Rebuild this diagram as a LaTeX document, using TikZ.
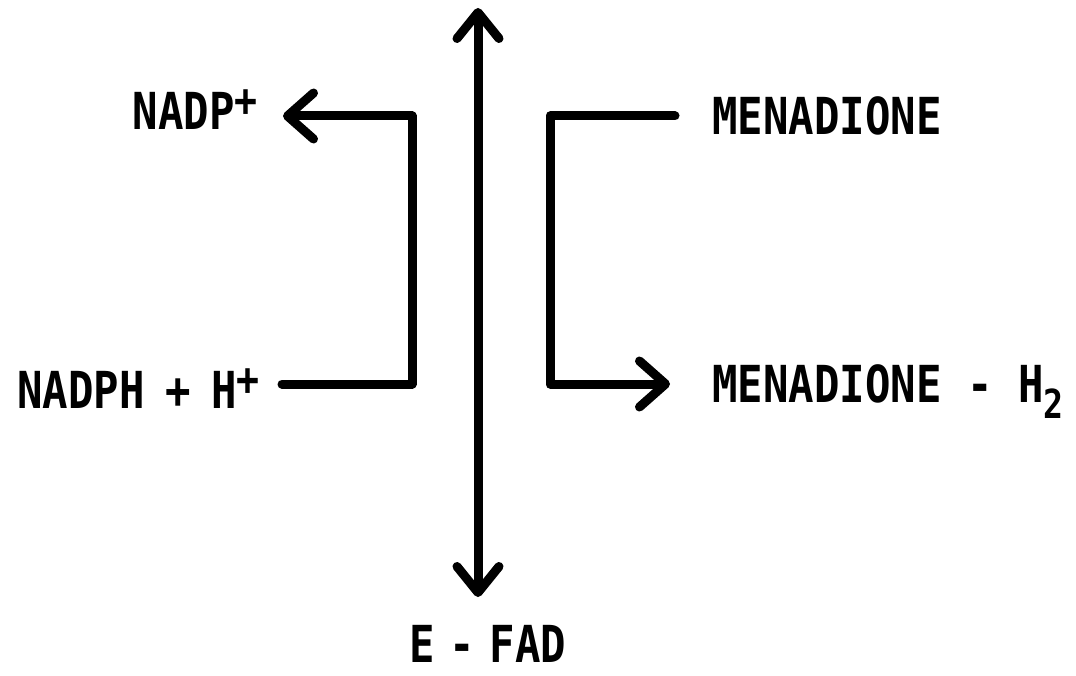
\documentclass[tikz,border=0pt]{standalone}
\usepackage{fontspec}
\usepackage{tikz}
\usetikzlibrary{arrows.meta,positioning,calc}
\newfontfamily\gothic[FakeStretch=0.83]{DejaVu Sans Mono}
\newcommand{\upchar}[1]{\raisebox{13pt}{\fontsize{46}{46}\selectfont #1}}
\newcommand{\downchar}[1]{\raisebox{-16pt}{\fontsize{40}{40}\selectfont #1}}
\newcommand{\tight}{\hspace{-11pt}}
\newcommand{\snug}{\hspace{-5pt}}
\tikzset{
  lbl/.style={font=\gothic\bfseries\fontsize{51}{60}\selectfont, inner ysep=0pt},
  flow/.style={line width=9pt, line join=round, line cap=round},
  barb/.style={-{Straight Barb[length=26pt,width=46pt,round]}},
  dblbarb/.style={{Straight Barb[length=26pt,width=42pt,round]}-{Straight Barb[length=26pt,width=42pt,round]}}
}
\begin{document}
\begin{tikzpicture}[x=1pt,y=-1pt]
\useasboundingbox (0,0) rectangle (1076,676);
% corners of the two brackets
\coordinate (lt) at (412,116);
\coordinate (lb) at (412,384);
\coordinate (rt) at (550,116);
\coordinate (rb) at (550,384);
% ends of the central arrow
\coordinate (vtop) at (478,8);
\coordinate (vbot) at (478,597);
% Labels
\node[lbl, anchor=base east, inner xsep=25pt] (nadp) at (283,130) {NADP\upchar{+}};
\node[lbl, anchor=base east, inner xsep=22pt] (nadph) at (282,408) {NADPH\snug{} + \snug{}H\upchar{+}};
\node[lbl, anchor=base west, inner xsep=37pt] (men) at (675,135) {MENADIONE};
\node[lbl, anchor=base west, inner xsep=42pt] (menh) at (670,402) {MENADIONE - H\downchar{2}};
\node[lbl, anchor=base] (efad) at (488,662) {E\tight{} - \tight{}FAD};
% Central double arrow
\draw[flow, dblbarb] (vtop) -- (vbot);
% Left bracket: NADPH -> NADP+
\draw[flow, barb] (lb -| nadph.east) -- (lb) -- (lt) -- (lt -| nadp.east);
% Right bracket: menadione -> menadione-H2
\draw[flow, barb] (rt -| men.west) -- (rt) -- (rb) -- (rb -| menh.west);
\end{tikzpicture}
\end{document}
